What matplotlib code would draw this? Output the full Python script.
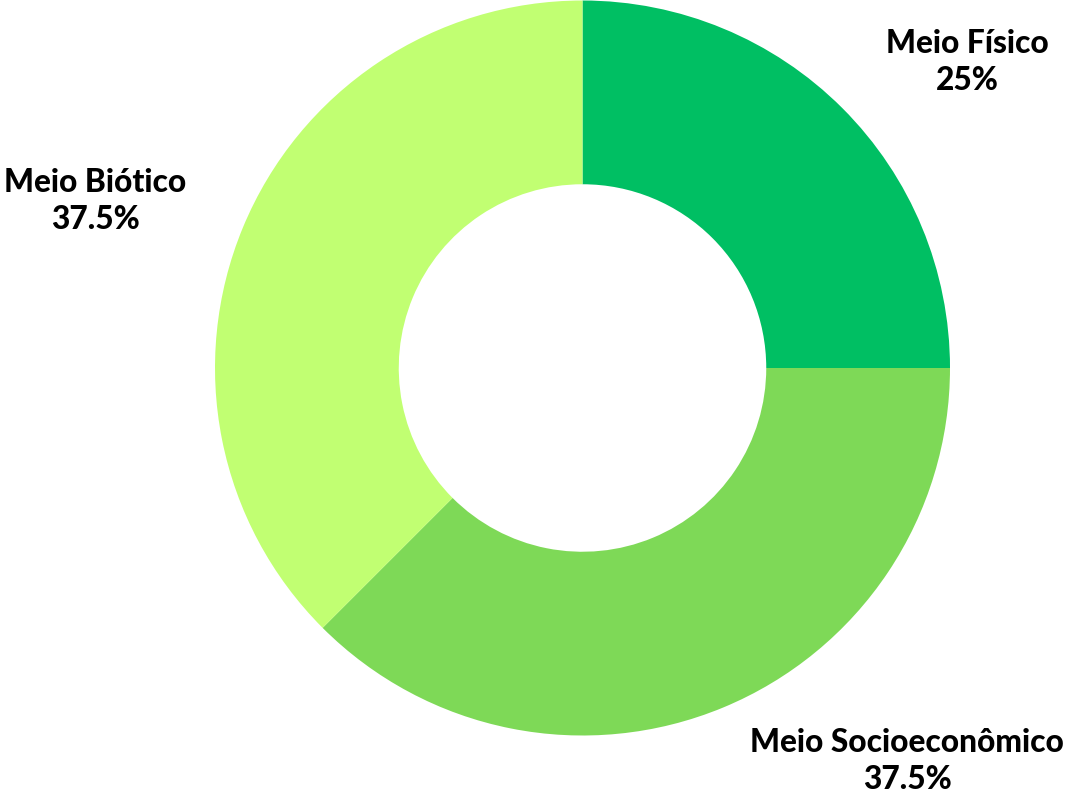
import matplotlib
matplotlib.use("Agg")
import matplotlib.pyplot as plt

# Share of each environmental domain
categories = ["Meio Físico", "Meio Socioeconômico", "Meio Biótico"]
values = [25, 37.5, 37.5]
colors = ["#00BF63", "#7ED957", "#C1FF72"]

W, H = 1069, 794
fig = plt.figure(figsize=(W / 100, H / 100), dpi=100)
ax = fig.add_axes([0, 0, 1, 1])

cx, cy, r = 582.5, H - 368, 367.5
ax.pie(values, colors=colors, startangle=90, counterclock=False,
       center=(cx, cy), radius=r,
       wedgeprops=dict(width=r * 0.5, linewidth=0))

# pie() resets the limits, so set the pixel-space frame afterwards
ax.set_xlim(0, W)
ax.set_ylim(0, H)
ax.set_aspect("equal")
ax.axis("off")

# Label placement (x, y of the label block centre)
label_pos = [(967, H - 62), (907, H - 761), (95, H - 201)]
for name, val, (x, y) in zip(categories, values, label_pos):
    txt = f"{name}\n{val:g}%"
    ax.text(x, y, txt, ha="center", va="center", multialignment="center",
            fontsize=22.8, fontfamily="Lato", fontweight="black",
            linespacing=1.33, color="black")

fig.savefig("out.png", dpi=100)
